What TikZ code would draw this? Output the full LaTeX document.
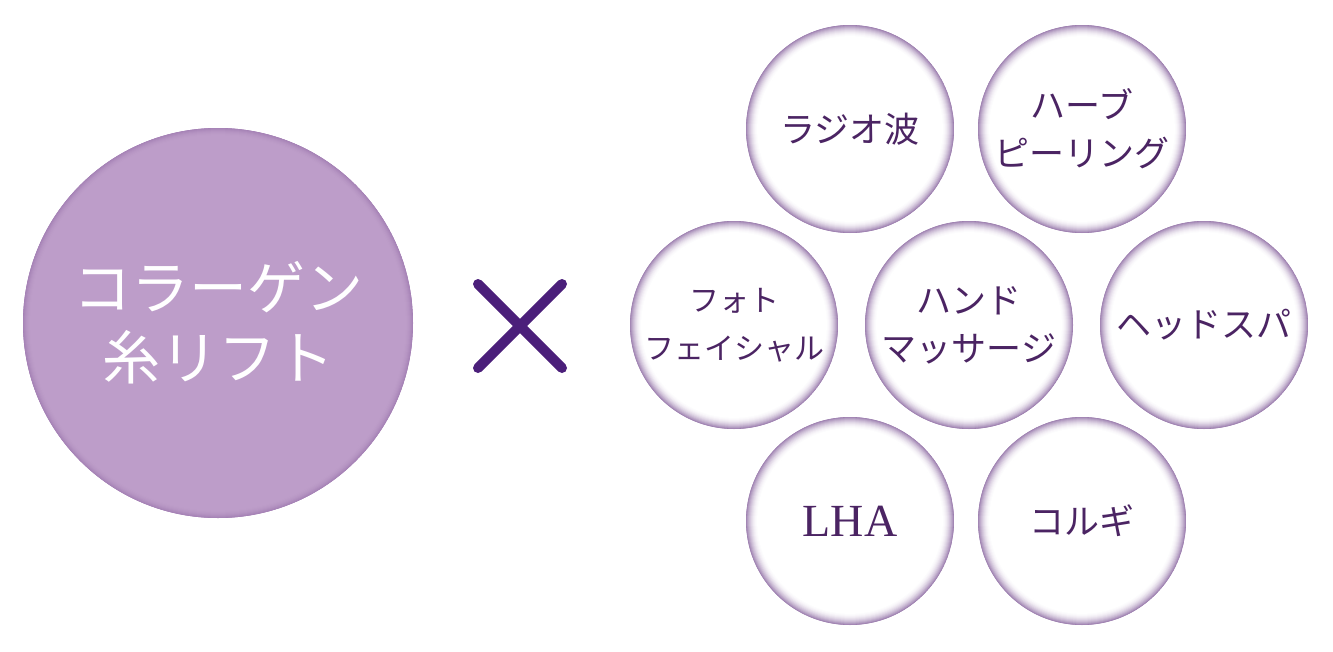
\documentclass[tikz,border=0pt]{standalone}
\usepackage{fontspec}
\setmainfont{Liberation Serif}
\newfontfamily\jpfont{Noto Sans CJK JP}
\usepackage{xcolor}
\usepackage{tikz}
\usetikzlibrary{calc, shapes.geometric, positioning}

\definecolor{lilac}{HTML}{BD9DC9}
\definecolor{lilacedge}{HTML}{9E7AB0}
\definecolor{rimdark}{HTML}{7F5897}
\definecolor{ink}{HTML}{4B2463}
\definecolor{cross}{HTML}{4B1F7A}

\begin{document}
\begin{tikzpicture}[x=1pt, y=-1pt,
    bigdot/.style={circle, minimum size=390pt, inner sep=0pt, fill=lilac,
      text=white, align=center, font=\jpfont\fontsize{58}{70}\selectfont,
      path picture={
        \foreach \k [evaluate=\k as \pct using {int(90*(1-\k/9)^2)}] in {0,...,8}
          \draw[lilacedge!\pct!lilac, line width=1.8pt]
            (path picture bounding box.center) circle[radius={(195-\k)*1pt}];
      }},
    menu/.style={circle, minimum size=208pt, inner sep=0pt, fill=white,
      text=ink, align=center, font=\jpfont\fontsize{35}{48}\selectfont,
      path picture={
        \foreach \k [evaluate=\k as \pct using {int(85*(1-\k/13)^2)}] in {0,...,12}
          \draw[rimdark!\pct!white, line width=1.8pt]
            (path picture bounding box.center) circle[radius={(104-\k)*1pt}];
      }}]
    \useasboundingbox (0,0) rectangle (1333,651);

    % Vòng tròn chính
    \node[bigdot] (lift) at (218,323) {コラーゲン\\糸リフト};

    % Dấu nhân
    \coordinate (xc) at (520,326);
    \draw[cross, line width=10pt, line cap=round]
        ($(xc)+(-42,-42)$) -- ($(xc)+(42,42)$)
        ($(xc)+(-42,42)$) -- ($(xc)+(42,-42)$);

    % Các vòng tròn nhỏ
    \node[menu] (radio) at (850,129) {ラジオ波};
    \node[menu] (herb)  at (1082,129) {ハーブ\\ピーリング};
    \node[menu, font=\jpfont\fontsize{30}{48}\selectfont] (photo) at (734,325) {フォト\\フェイシャル};
    \node[menu] (hand)  at (969,325) {ハンド\\マッサージ};
    \node[menu] (spa)   at (1204,325) {ヘッドスパ};
    \node[menu, font=\fontsize{46}{50}\selectfont] (lha) at (850,521) {LHA};
    \node[menu] (corugi) at (1082,521) {コルギ};

\end{tikzpicture}
\end{document}
